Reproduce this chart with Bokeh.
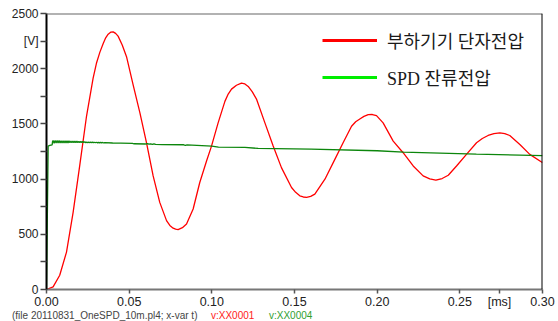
from bokeh.plotting import figure
from bokeh.models import (Range1d, FixedTicker, Span, Legend, LegendItem, Div)
from bokeh.layouts import column
from bokeh.embed import file_html
from bokeh.resources import INLINE

# Load-device terminal voltage (red), time in ms, voltage in V
red_t = [0.0, 0.004, 0.008, 0.0121, 0.0161, 0.0202, 0.0242, 0.0282, 0.0302, 0.0323, 0.0343,
         0.0358, 0.0373, 0.0388, 0.0403, 0.0418, 0.0433, 0.0458, 0.0484, 0.0524, 0.0565,
         0.0605, 0.0645, 0.0685, 0.0726, 0.0746, 0.0766, 0.0781, 0.0796, 0.0822, 0.0847,
         0.0887, 0.0927, 0.0968, 0.0998, 0.1038, 0.1079, 0.1099, 0.1119, 0.1149, 0.1179,
         0.1200, 0.1220, 0.1245, 0.1270, 0.1321, 0.1371, 0.1421, 0.1482, 0.1507, 0.1532,
         0.1553, 0.1573, 0.1598, 0.1623, 0.1684, 0.1744, 0.1794, 0.1845, 0.1870, 0.1895,
         0.1920, 0.1946, 0.1971, 0.1996, 0.2036, 0.2097, 0.2157, 0.2218, 0.2278, 0.2318,
         0.2355, 0.2393, 0.2430, 0.2480, 0.2540, 0.2601, 0.2636, 0.2671, 0.2706, 0.2742,
         0.2772, 0.2802, 0.2863, 0.2923, 0.2994, 0.3000]
red_v = [0, 24, 129, 339, 699, 1134, 1569, 1914, 2049, 2150, 2229,
         2280, 2313, 2331, 2334, 2320, 2295, 2215, 2109, 1854, 1599,
         1329, 1029, 789, 624, 580, 555, 546, 543, 560, 594,
         729, 969, 1164, 1299, 1509, 1704, 1770, 1815, 1850, 1869,
         1862, 1839, 1790, 1725, 1509, 1299, 1104, 924, 880, 849,
         838, 834, 843, 864, 999, 1179, 1329, 1479, 1520, 1545,
         1568, 1584, 1585, 1575, 1509, 1344, 1239, 1119, 1029, 1002,
         990, 1005, 1035, 1119, 1224, 1329, 1368, 1395, 1412, 1419,
         1412, 1395, 1314, 1224, 1155, 1150]

# SPD residual voltage (green)
green_t = [0.0, 0.0010, 0.0020, 0.0034, 0.0037,
           0.0040, 0.0046, 0.0052, 0.0058, 0.0064, 0.0070, 0.0076, 0.0082, 0.0088, 0.0094,
           0.0100, 0.0106, 0.0112, 0.0118, 0.0124, 0.0130, 0.0136, 0.0142, 0.0148, 0.0154,
           0.0160, 0.0166, 0.0172, 0.0178, 0.0184, 0.0190, 0.0196, 0.0202, 0.0208, 0.0214,
           0.0220, 0.0226, 0.0232, 0.0238, 0.0244, 0.0250, 0.0256, 0.0262, 0.0268, 0.0274,
           0.0280, 0.0286, 0.0292, 0.0298, 0.0304, 0.0310, 0.0316, 0.0322, 0.0328, 0.0334,
           0.0340, 0.0346, 0.0352, 0.0400, 0.0450, 0.0520, 0.0530, 0.0600, 0.0610, 0.0620,
           0.0630, 0.0640, 0.0650, 0.0660, 0.0700, 0.0830, 0.0840, 0.0850, 0.1000, 0.1040,
           0.1200, 0.1280, 0.1600, 0.2000, 0.2160, 0.2600, 0.3000]
green_v = [0, 1299, 1305, 1310, 1344,
           1349, 1325, 1350, 1326, 1350, 1326, 1349, 1326, 1348, 1327,
           1348, 1327, 1347, 1328, 1346, 1328, 1346, 1329, 1345, 1329,
           1345, 1330, 1344, 1330, 1343, 1331, 1342, 1331, 1341, 1332,
           1340, 1331, 1338, 1330, 1337, 1330, 1336, 1330, 1336, 1329,
           1335, 1329, 1334, 1329, 1334, 1328, 1333, 1328, 1333, 1328,
           1332, 1327, 1331, 1327, 1326, 1324, 1320, 1318, 1322, 1316,
           1320, 1315, 1319, 1314, 1312, 1311, 1306, 1310, 1299, 1290,
           1287, 1278, 1272, 1257, 1245, 1227, 1213]

series_names = ["부하기기 단자전압", "SPD 잔류전압"]
x_ticks = [0.0, 0.05, 0.10, 0.15, 0.20, 0.25, 0.274, 0.30]
x_labels = ["0.00", "0.05", "0.10", "0.15", "0.20", "0.25", "[ms]", "0.30"]
y_ticks = [0, 250, 500, 750, 1000, 1250, 1500, 1750, 2000, 2250, 2500]
y_labels = ["0", "", "500", "", "1000", "", "1500", "", "2000", "[V]", "2500"]
footer = ["(file 20110831_OneSPD_10m.pl4; x-var t)", "v:XX0001", "v:XX0004"]
footer_colors = ["#444444", "#ff2020", "#30a030"]

SANS = "Liberation Sans"
SERIF = "'Liberation Serif', 'Noto Sans CJK KR'"

p = figure(width=558, height=311, output_backend="svg", toolbar_location=None,
           x_range=Range1d(0, 0.30), y_range=Range1d(0, 2500),
           min_border_left=46, min_border_right=16, min_border_top=13, min_border_bottom=20)
p.outline_line_color = None
p.xgrid.visible = False
p.ygrid.visible = False
p.background_fill_color = "white"
p.border_fill_color = "white"

r_red = p.line(red_t, red_v, line_color="#ff0000", line_width=1.3)
r_green = p.line(green_t, green_v, line_color="#0c860c", line_width=1.3)

# legend swatches (single-point lines draw nothing in the plot)
leg_red = p.line(red_t[:1], red_v[:1], line_color="#ff0000", line_width=3)
leg_green = p.line(green_t[:1], green_v[:1], line_color="#00ee00", line_width=3)

legend = Legend(items=[LegendItem(label=series_names[0], renderers=[leg_red]),
                       LegendItem(label=series_names[1], renderers=[leg_green])],
                location=(276, 199), orientation="vertical",
                glyph_width=55, glyph_height=20, label_height=20, spacing=11,
                padding=0, margin=0, label_standoff=10,
                border_line_color=None, background_fill_alpha=0,
                label_text_font=SERIF,
                label_text_font_size="18px", label_text_color="#1a1a1a")
p.add_layout(legend)

# axes
xa = p.xaxis[0]
xa.ticker = FixedTicker(ticks=x_ticks)
xa.major_label_overrides = {t: l for t, l in zip(x_ticks, x_labels)}
xa.axis_line_color = "#777777"
xa.axis_line_width = 2
xa.major_tick_line_color = "#555555"
xa.major_tick_line_width = 1.5
xa.major_tick_out = 4
xa.major_tick_in = 0
xa.minor_tick_line_color = None
xa.major_label_standoff = 1
xa.major_label_text_font = SANS
xa.major_label_text_font_size = "12.5px"
xa.major_label_text_color = "#222222"

ya = p.yaxis[0]
ya.ticker = FixedTicker(ticks=y_ticks)
ya.major_label_overrides = {t: l for t, l in zip(y_ticks, y_labels)}
ya.axis_line_color = "black"
ya.axis_line_width = 2
ya.major_tick_line_color = "#444444"
ya.major_tick_line_width = 1.5
ya.major_tick_out = 6
ya.major_tick_in = 0
ya.minor_tick_line_color = None
ya.major_label_standoff = 2
ya.major_label_text_font = SANS
ya.major_label_text_font_size = "12px"
ya.major_label_text_color = "#222222"

# top and right frame lines
p.add_layout(Span(location=2500, dimension="width", line_color="#666666", line_width=2))
p.add_layout(Span(location=0.30, dimension="height", line_color="black", line_width=2))

# footer line under the chart
lefts = [12, 211, 269]
spans = "".join(
    f'<span style="position:absolute;left:{l}px;top:-2px;color:{c};white-space:nowrap;">{t}</span>'
    for t, c, l in zip(footer, footer_colors, lefts))
div = Div(text=f'<div style="position:relative;width:558px;height:10px;'
               f'font-family:\'Liberation Sans\';font-size:10px;line-height:10px;">{spans}</div>',
          width=558, height=10, margin=0)

layout = column(p, div, spacing=0)
open("out.html", "w").write(file_html(layout, INLINE))
